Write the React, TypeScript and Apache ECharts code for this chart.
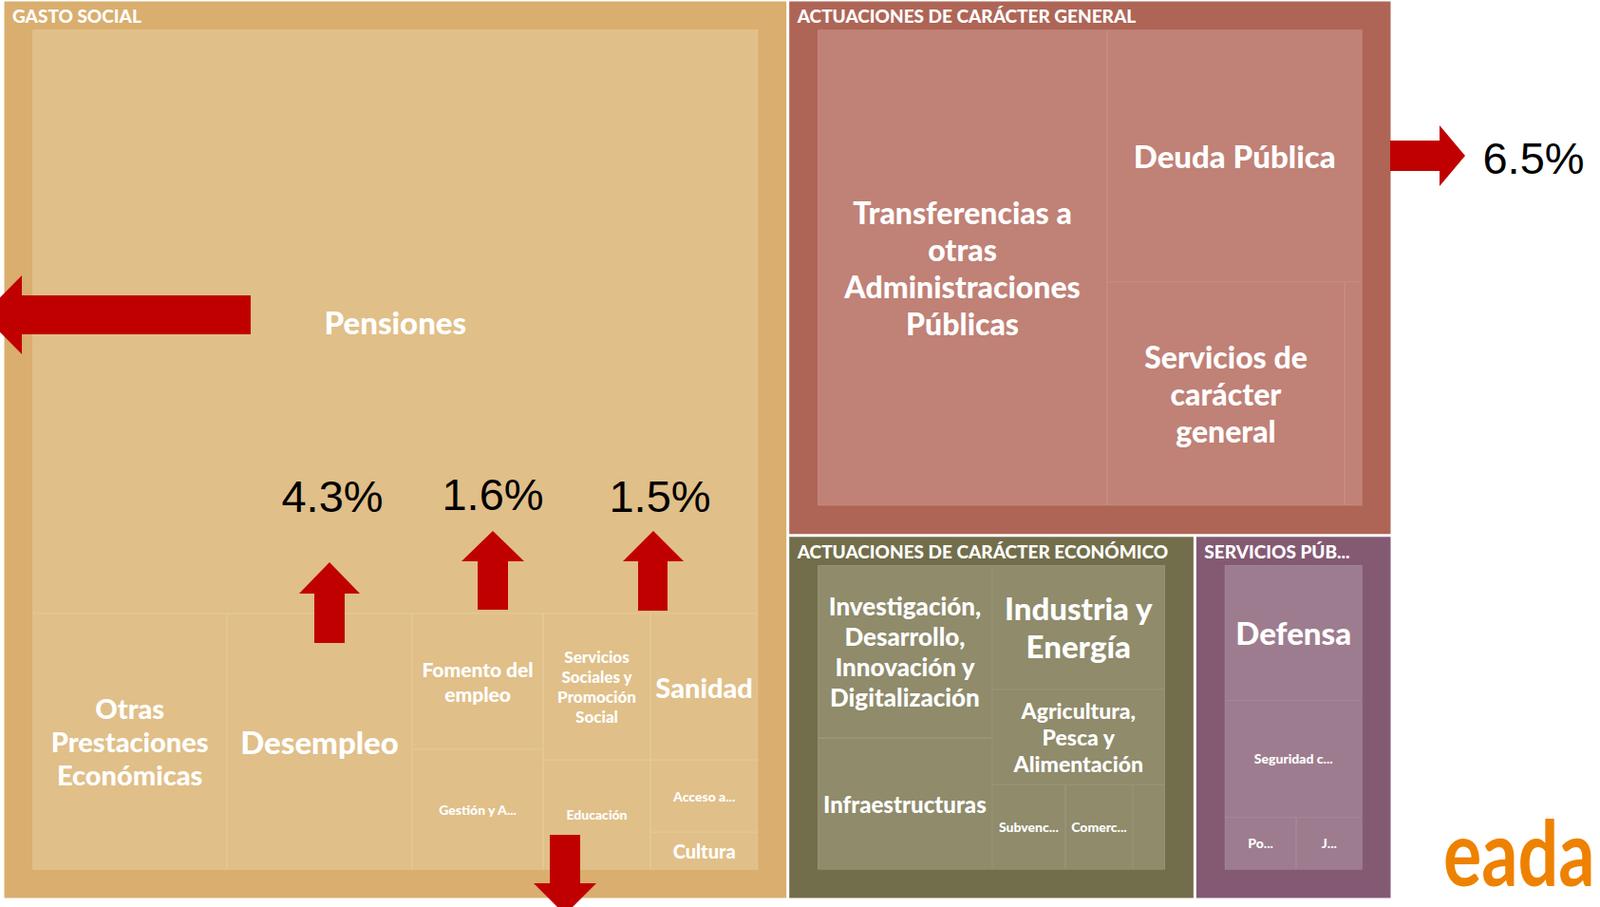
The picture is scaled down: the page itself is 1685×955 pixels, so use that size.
import React, { useEffect, useRef } from "react";
import * as echarts from "echarts";

// ---------------- DATA ----------------
const groupNames = [
  "Gasto social",
  "Actuaciones de carácter general",
  "Actuaciones de carácter económico",
  "Servicios públicos básicos",
];
const groupHeaders = [
  "GASTO SOCIAL",
  "ACTUACIONES DE CARÁCTER GENERAL",
  "ACTUACIONES DE CARÁCTER ECONÓMICO",
  "SERVICIOS PÚB...",
];

const gastoSocialNames = [
  "Pensiones",
  "Otras Prestaciones Económicas",
  "Desempleo",
  "Fomento del empleo",
  "Gestión y Administración de la Seguridad Social",
  "Servicios Sociales y Promoción Social",
  "Sanidad",
  "Educación",
  "Acceso a la Vivienda y Fomento de la Edificación",
  "Cultura",
];
const gastoSocialValues = [190700, 22400, 21400, 8000, 7100, 7100, 7100, 5300, 3500, 1800];
const gastoSocialLabels = [
  "Pensiones",
  "Otras\nPrestaciones\nEconómicas",
  "Desempleo",
  "Fomento del\nempleo",
  "Gestión y A...",
  "Servicios\nSociales y\nPromoción\nSocial",
  "Sanidad",
  "Educación",
  "Acceso a...",
  "Cultura",
];

const generalNames = [
  "Transferencias a otras Administraciones Públicas",
  "Deuda Pública",
  "Servicios de carácter general",
  "Administración Financiera y Tributaria",
];
const generalValues = [66800, 31200, 25800, 1900];
const generalLabels = [
  "Transferencias a\notras\nAdministraciones\nPúblicas",
  "Deuda Pública",
  "Servicios de\ncarácter\ngeneral",
  "",
];

const economicoNames = [
  "Investigación, Desarrollo, Innovación y Digitalización",
  "Infraestructuras",
  "Industria y Energía",
  "Agricultura, Pesca y Alimentación",
  "Subvenciones al transporte",
  "Comercio, Turismo y PYMES",
  "Otras actuaciones de carácter económico",
];
const economicoValues = [16400, 12500, 11700, 9000, 3400, 3100, 1500];
const economicoLabels = [
  "Investigación,\nDesarrollo,\nInnovación y\nDigitalización",
  "Infraestructuras",
  "Industria y\nEnergía",
  "Agricultura,\nPesca y\nAlimentación",
  "Subvenc...",
  "Comerc...",
  "",
];

const basicosNames = [
  "Defensa",
  "Seguridad Ciudadana e Instituciones Penitenciarias",
  "Política Exterior y de Cooperación para el Desarrollo",
  "Justicia",
];
const basicosValues = [12400, 10700, 2500, 2300];
const basicosLabels = ["Defensa", "Seguridad c...", "Po...", "J..."];

// annotation texts (percent changes)
const changeTexts = ["6.5%", "4.3%", "1.6%", "1.5%"];

// ---------------- STYLES ----------------
const FONT = "Lato, 'Open Sans', sans-serif";
const PALETTE = [
  { outer: "#D9AE6E", inner: "#E0BF89", line: "#E9CFA3" },
  { outer: "#AE6556", inner: "#C08176", line: "#CD978D" },
  { outer: "#726E4B", inner: "#8F8B6B", line: "#A39F84" },
  { outer: "#845A73", inner: "#9E7C8F", line: "#AF93A3" },
];
const labelFontSize: Record<string, number> = {
  "Pensiones": 33,
  "Otras Prestaciones Económicas": 29,
  "Desempleo": 33,
  "Fomento del empleo": 21,
  "Servicios Sociales y Promoción Social": 17,
  "Sanidad": 29,
  "Cultura": 20,
  "Transferencias a otras Administraciones Públicas": 32,
  "Deuda Pública": 33,
  "Servicios de carácter general": 32,
  "Investigación, Desarrollo, Innovación y Digitalización": 26,
  "Infraestructuras": 24,
  "Industria y Energía": 33,
  "Agricultura, Pesca y Alimentación": 23,
  "Defensa": 33,
};

const displayLabel: Record<string, string> = {};
const headerLabel: Record<string, string> = {};

function leaves(names: string[], values: number[], labels: string[], pal: { inner: string; line: string }) {
  return names.map((name, i) => {
    displayLabel[name] = labels[i];
    const fs = labelFontSize[name] ?? 14;
    return {
      name,
      value: values[i],
      itemStyle: { color: pal.inner, borderColor: pal.line },
      label: { fontSize: fs, lineHeight: Math.ceil(fs * 1.2) },
    };
  });
}

const childSets = [
  leaves(gastoSocialNames, gastoSocialValues, gastoSocialLabels, PALETTE[0]),
  leaves(generalNames, generalValues, generalLabels, PALETTE[1]),
  leaves(economicoNames, economicoValues, economicoLabels, PALETTE[2]),
  leaves(basicosNames, basicosValues, basicosLabels, PALETTE[3]),
];

const treeData = groupNames.map((name, i) => {
  headerLabel[name] = groupHeaders[i];
  return {
    name,
    itemStyle: { color: PALETTE[i].outer, borderColor: PALETTE[i].outer },
    children: childSets[i],
  };
});

// annotation arrows (red block arrows drawn over the chart)
const RED = "#C00000";
const arrowShapes: number[][][] = [
  // left arrow at Pensiones
  [[264, 311], [23, 311], [23, 290], [-18, 331.5], [23, 373], [23, 352], [264, 352]],
  // right arrow 6.5%
  [[1464, 148], [1516, 148], [1516, 132], [1543, 164], [1516, 196], [1516, 180], [1464, 180]],
  // up arrows
  [[347, 592], [379, 625], [363, 625], [363, 677], [331, 677], [331, 625], [315, 625]],
  [[519, 559], [552, 591], [535, 591], [535, 642], [503, 642], [503, 591], [486, 591]],
  [[688, 559], [720, 591], [703, 591], [703, 643], [672, 643], [672, 591], [656, 591]],
  // down arrow
  [[579, 879], [611, 879], [611, 930], [628, 930], [595, 963], [562, 930], [579, 930]],
];
const changeTextPos = [
  [1615, 166],
  [350, 522],
  [519, 520],
  [695, 522],
];

export default function App() {
  const ref = useRef<HTMLDivElement>(null);

  useEffect(() => {
    if (!ref.current) return;
    const chart = echarts.init(ref.current, null, { renderer: "svg" });

    const graphics: any[] = [];
    arrowShapes.forEach((pts) => {
      graphics.push({
        type: "polygon",
        z: 100,
        silent: true,
        shape: { points: pts },
        style: { fill: RED },
      });
    });
    changeTexts.forEach((t, i) => {
      graphics.push({
        type: "text",
        z: 100,
        silent: true,
        x: changeTextPos[i][0],
        y: changeTextPos[i][1],
        style: {
          text: t,
          fill: "#000",
          fontSize: 47,
          fontFamily: "'Liberation Sans', Arial, sans-serif",
          align: "center",
          verticalAlign: "middle",
        },
      });
    });
    graphics.push({
      type: "text",
      z: 100,
      silent: true,
      x: 1520,
      y: 895,
      scaleX: 0.82,
      scaleY: 1.05,
      style: {
        text: "eada",
        fill: "#EE8200",
        fontSize: 92,
        fontWeight: "bold",
        fontFamily: FONT,
        align: "left",
        verticalAlign: "middle",
      },
    });

    const option: any = {
      animation: false,
      backgroundColor: "#ffffff",
      series: [
        {
          type: "treemap",
          left: 4.5,
          top: 1.5,
          width: 1460,
          height: 944,
          roam: false,
          nodeClick: false,
          breadcrumb: { show: false },
          squareRatio: 1,
          sort: false,
          visibleMin: 0,
          emphasis: { disabled: true },
          itemStyle: { borderColor: "#ffffff" },
          label: {
            show: true,
            position: "inside",
            color: "#ffffff",
            fontFamily: FONT,
            fontWeight: 900,
            padding: 2,
            overflow: "none",
            align: "center",
            verticalAlign: "middle",
            formatter: (p: any) => displayLabel[p.name] ?? "",
          },
          upperLabel: { show: false },
          levels: [
            { itemStyle: { borderWidth: 0, gapWidth: 3, borderColor: "#ffffff" } },
            {
              itemStyle: { borderWidth: 30, gapWidth: 0 },
              upperLabel: {
                show: true,
                height: 30,
                color: "#ffffff",
                fontFamily: FONT,
                fontWeight: 900,
                fontSize: 19,
                position: [-21.5, "50%"],
                verticalAlign: "middle",
                overflow: "none",
                formatter: (p: any) => headerLabel[p.name] ?? "",
              },
            },
            { itemStyle: { borderWidth: 0.5, gapWidth: 0 } },
          ],
          data: treeData,
        },
      ],
      graphic: graphics,
    };
    chart.setOption(option);
    return () => chart.dispose();
  }, []);

  return (
    <div
      ref={ref}
      style={{ position: "fixed", left: 0, top: 0, width: 1685, height: 955, background: "#ffffff" }}
    />
  );
}
